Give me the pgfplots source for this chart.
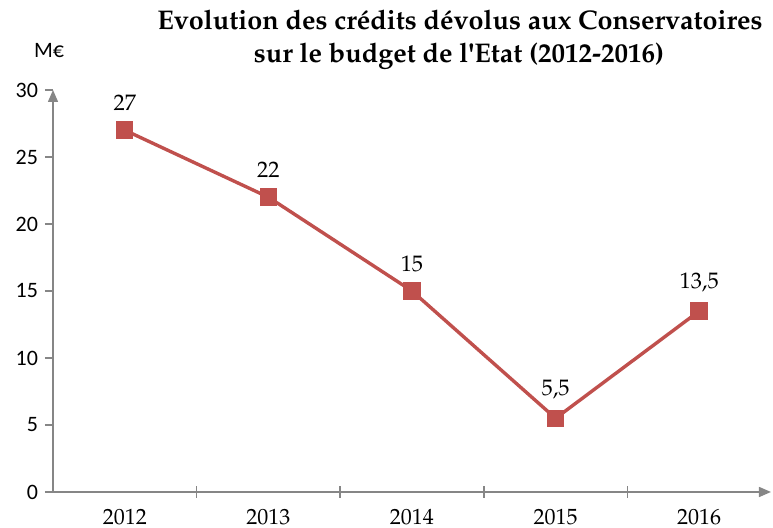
\documentclass[border=0pt]{standalone}
\usepackage[T1]{fontenc}
\usepackage{fontspec}
\usepackage{pgfplots}
\pgfplotsset{compat=1.18}
\usetikzlibrary{arrows.meta}
\newfontfamily\carlito{Carlito}
\newcommand\pal{\fontencoding{T1}\fontfamily{ppl}\selectfont}
\definecolor{c1}{HTML}{C0504D}
\definecolor{axgray}{HTML}{868686}
\begin{document}
\begin{tikzpicture}
\useasboundingbox (0,0) rectangle (386.5pt,264pt);
\begin{axis}[
  at={(26.5pt,18pt)}, anchor=south west,
  scale only axis, width=359pt, height=201pt,
  xmin=-0.5, xmax=4.5, ymin=0, ymax=30,
  axis lines=left,
  axis line style={draw=axgray, line width=0.75pt},
  every outer x axis line/.append style={-{Triangle[length=6pt,width=5pt]}},
  every outer y axis line/.append style={-{Triangle[length=6pt,width=5pt]}},
  xtick={0,1,2,3,4},
  xticklabels={2012,2013,2014,2015,2016},
  minor xtick={0.5,1.5,2.5,3.5},
  major x tick style={draw=none},
  minor x tick style={draw=axgray, line width=0.75pt},
  minor tick length=6pt,
  xtick align=center,
  ytick={0,5,...,30},
  ytick align=outside,
  major tick length=4pt,
  major y tick style={draw=axgray, line width=0.75pt},
  /pgf/number format/assume math mode=true,
  yticklabel style={font=\carlito\fontsize{11}{13}\selectfont, text=black},
  xticklabel style={font=\pal\fontsize{11}{13}\selectfont, text=black, yshift=-3pt},
  clip=false,
]
\addplot[color=c1, line width=1.7pt, mark=square*, mark size=4.1pt,
  mark options={solid, line width=0.5pt},
  nodes near coords, point meta=explicit symbolic,
  every node near coord/.append style={font=\pal\fontsize{11.2}{13}\selectfont, text=black, anchor=south, yshift=6pt}]
  table[meta=lab] {
x y lab
0 27 27
1 22 22
2 15 15
3 5.5 5,5
4 13.5 13,5
};
\end{axis}
\node[font=\pal\bfseries\fontsize{13.5}{16}\selectfont, anchor=base] at (230pt,249pt) {Evolution des cr\'edits d\'evolus aux Conservatoires};
\node[font=\pal\bfseries\fontsize{13.5}{16}\selectfont, anchor=base] at (229.5pt,232.5pt) {sur le budget de l\textquotesingle Etat (2012-2016)};
\node[font=\carlito\fontsize{11}{13}\selectfont] at (24.5pt,238.5pt) {M€};
\end{tikzpicture}
\end{document}
